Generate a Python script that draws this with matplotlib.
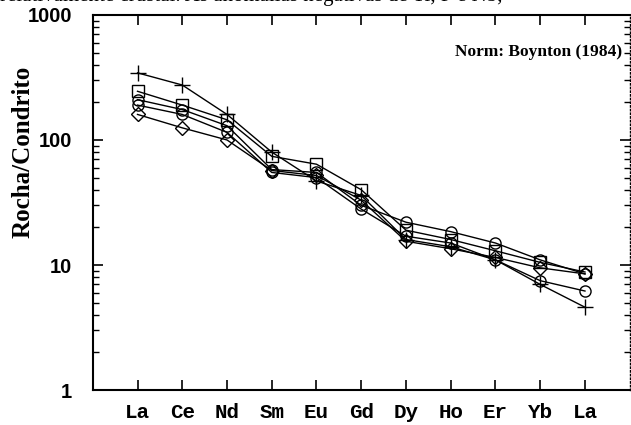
import numpy as np
import matplotlib
matplotlib.use("Agg")
from matplotlib import pyplot as plt

# elementos (o ultimo rotulo aparece como "La" no original)
elementos = ["La", "Ce", "Nd", "Sm", "Eu", "Gd", "Dy", "Ho", "Er", "Yb", "La"]

# rocha/condrito
amostra_cruz = [344, 275, 160, 80, 47, 36, 16, 14, 11, 7.0, 4.6]
amostra_quad = [245, 190, 145, 74, 64, 40, 19, 16, 13, 10.5, 8.8]
amostra_circ = [210, 175, 130, 58, 55, 30, 22, 18.5, 15, 11, 8.5]
amostra_circ2 = [190, 160, 115, 55, 50, 28, 17, 15, 11, 7.5, 6.2]
amostra_losango = [160, 125, 100, 57, 52, 33, 15.5, 13.5, 11.5, 9.5, 8.5]

fig = plt.figure(figsize=(6.31, 4.25), dpi=100)
ax = fig.add_axes([0.147, 0.082, 0.851, 0.883])

x = np.arange(len(elementos))
estilo = dict(color="black", lw=1.0, mfc="none", mec="black", mew=1.0)
ax.plot(x, amostra_cruz, marker="+", ms=11, **estilo)
ax.plot(x, amostra_quad, marker="s", ms=8, **estilo)
ax.plot(x, amostra_circ, marker="o", ms=8, **estilo)
ax.plot(x, amostra_circ2, marker="o", ms=8, **estilo)
ax.plot(x, amostra_losango, marker="D", ms=7, **estilo)

ax.set_yscale("log")
ax.set_ylim(1, 1000)
ax.set_xlim(-1, 11)
ax.set_xticks(x)
ax.set_xticklabels(elementos, family="Liberation Mono", fontweight="bold", fontsize=15)
ax.set_yticks([1, 10, 100, 1000])
ax.set_yticklabels(["1", "10", "100", "1000"], family="Liberation Sans",
                   fontweight="bold", fontsize=14.5)
ax.tick_params(which="both", direction="in", top=True, right=True)
ax.tick_params(which="major", length=7, width=1.2)
ax.tick_params(which="minor", length=4, width=1.0)
ax.tick_params(axis="x", pad=9)
ax.tick_params(axis="y", pad=15)
for s in ax.spines.values():
    s.set_linewidth(1.5)
ax.spines["right"].set_linestyle(":")
ax.spines["right"].set_linewidth(1.0)

ax.set_ylabel("Rocha/Condrito", family="Liberation Serif", fontweight="bold",
              fontsize=18)
ax.yaxis.set_label_coords(-0.108, 0.635)
ax.text(0.985, 0.90, "Norm: Boynton (1984)", transform=ax.transAxes,
        ha="right", va="center", family="Liberation Serif", fontweight="bold",
        fontsize=12.5)

# linha de texto do documento cortada no topo
fig.text(0.0, 1.008, "relativamente crustal. As anomalias negativas de Ti, P e Nb,",
         ha="left", va="center", family="Liberation Serif", fontsize=15)

fig.savefig("out.png", dpi=100)
